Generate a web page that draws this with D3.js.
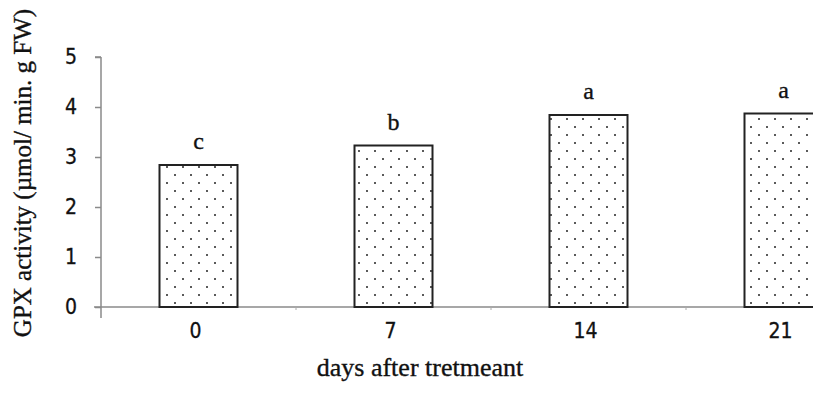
<!DOCTYPE html>
<html>
    <head>
        <meta http-equiv="Content-Type" content="text/html; charset=UTF-8">
        <script src="https://d3js.org/d3.v7.min.js"></script>
        <style>
            html, body {
                margin: 0;
                padding: 0;
                background-color: #fff;
            }
            svg {
                display: block;
            }
            .tick text {
                font-family: 'DejaVu Sans Condensed', 'DejaVu Sans', sans-serif;
                font-size: 21px;
                fill: #111;
                stroke: #111;
                stroke-width: 0.3px;
            }
            .serif {
                font-family: 'Liberation Serif', serif;
                fill: #111;
                stroke: #111;
                stroke-width: 0.35px;
            }
        </style>
        <title>GPX activity</title>
    </head>
    <body>
        <script>
            // values
            var days = ["0", "7", "14", "21"];
            var gpx = [2.84, 3.23, 3.84, 3.87];
            var letters = ["c", "b", "a", "a"];
            var yTicks = [0, 1, 2, 3, 4, 5];

            var ww = 813, hh = 396;
            var svg = d3.select("body").append("svg").attr("width", ww).attr("height", hh);

            // dotted fill like the original bars
            var pat = svg.append("defs").append("pattern")
                .attr("id", "dots")
                .attr("patternUnits", "userSpaceOnUse")
                .attr("width", 16).attr("height", 16)
                .attr("x", 3).attr("y", 3);
            pat.append("rect").attr("width", 16).attr("height", 16).attr("fill", "#fff");
            pat.append("circle").attr("cx", 4).attr("cy", 4).attr("r", 1).attr("fill", "#222");
            pat.append("circle").attr("cx", 12).attr("cy", 12).attr("r", 1).attr("fill", "#222");

            var x = d3.scaleBand().domain(days).range([101, 881]).paddingInner(0.6).paddingOuter(0.3);
            var y = d3.scaleLinear().domain([0, 5]).range([307, 57]);

            // y axis
            var yAxis = svg.append("g").attr("transform", "translate(101,0)")
                .call(d3.axisLeft(y).tickValues(yTicks).tickSize(6).tickSizeOuter(0).tickPadding(18).tickFormat(d3.format("d")));
            yAxis.selectAll("line, path").attr("stroke", "#8a8a8a").attr("stroke-width", 1.5);
            yAxis.select(".domain").attr("d", "M0," + y(5) + "H-6M0," + y(5) + "V" + (y(0) + 11));

            // x axis
            var step = x.step();
            var bounds = days.map(function(d) { return x(d) - x.paddingInner() * step / 2; }).slice(1);
            var xg = svg.append("g").attr("transform", "translate(0," + y(0) + ")");
            xg.append("line").attr("x1", 94).attr("x2", ww).attr("stroke", "#8a8a8a").attr("stroke-width", 1.5);
            xg.selectAll(".bt").data(bounds).enter().append("line")
                .attr("x1", function(d) { return d; }).attr("x2", function(d) { return d; })
                .attr("y1", 0).attr("y2", 3).attr("stroke", "#aaa");
            xg.selectAll(".tick").data(days).enter().append("g").attr("class", "tick")
                .append("text")
                .attr("x", function(d) { return x(d) + x.bandwidth() / 2 - 3; })
                .attr("y", 31)
                .attr("text-anchor", "middle")
                .text(function(d) { return d; });

            // bars
            svg.selectAll(".bar").data(gpx).enter().append("rect")
                .attr("x", function(d, i) { return x(days[i]); })
                .attr("y", function(d) { return y(d); })
                .attr("width", x.bandwidth())
                .attr("height", function(d) { return y(0) - y(d); })
                .attr("fill", "url(#dots)")
                .attr("stroke", "#222")
                .attr("stroke-width", 2);

            // significance letters
            svg.selectAll(".lt").data(gpx).enter().append("text")
                .attr("class", "serif")
                .attr("x", function(d, i) { return x(days[i]) + x.bandwidth() / 2; })
                .attr("y", function(d) { return y(d) - 16; })
                .attr("text-anchor", "middle")
                .style("font-size", "24px")
                .text(function(d, i) { return letters[i]; });

            // axis titles
            svg.append("text")
                .attr("class", "serif")
                .attr("x", 420).attr("y", 376)
                .attr("text-anchor", "middle")
                .style("font-size", "26px")
                .text("days after tretmeant");

            svg.append("text")
                .attr("class", "serif")
                .attr("transform", "translate(31,173) rotate(-90)")
                .attr("text-anchor", "middle")
                .style("font-size", "25px")
                .text("GPX activity (µmol/ min. g FW)");
        </script>
    </body>
</html>
